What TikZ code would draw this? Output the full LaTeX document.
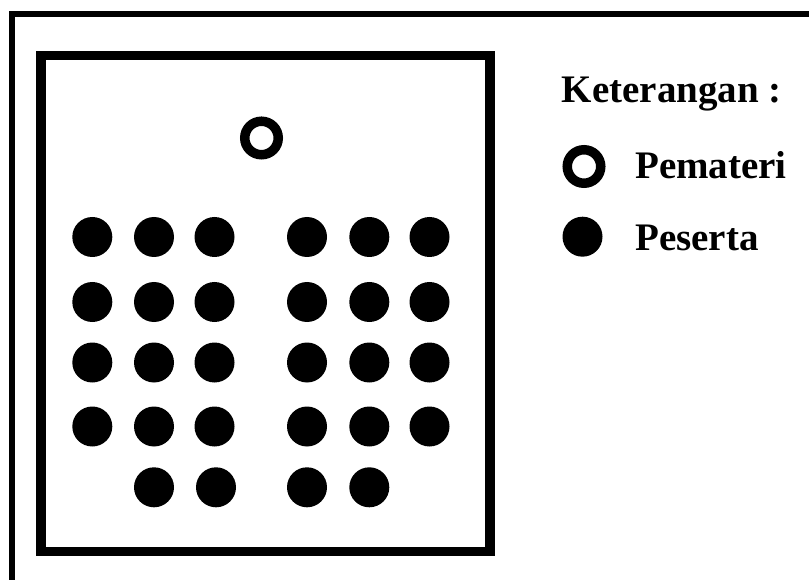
\documentclass[tikz,border=0pt]{standalone}
\usepackage{fontspec}
\setmainfont{Liberation Serif}
\begin{document}
\begin{tikzpicture}[x=1pt,y=-1pt,
  seat/.style={circle,fill=black,inner sep=0pt,minimum size=40pt},
  speaker/.style={circle,draw=black,line width=9.5pt,inner sep=0pt,minimum size=33.5pt},
  legendtext/.style={anchor=base west,inner sep=0pt,font=\fontsize{39}{41}\selectfont\bfseries}]
\useasboundingbox[fill=white] (0,0) rectangle (809,580);
% outer frame (only top and left visible)
\draw[line width=6pt,line join=miter] (12,580) -- (12,14) -- (809,14);
% room
\draw[line width=9.5pt,line join=miter] (41,55.5) rectangle (490,551.5);
% speaker
\node[speaker] (sp) at (261.5,138) {};
% participants
\foreach \r/\y in {1/237,2/302,3/362.5,4/426.5}{
  \foreach \c/\x in {1/92.3,2/154,3/214.5}{
    \node[seat] (L\r\c) at (\x,\y) {};
  }
  \foreach \c/\x in {1/307,2/369.3,3/429.5}{
    \node[seat] (R\r\c) at (\x,\y) {};
  }
}
\node[seat] (L52) at (154,487.3) {};
\node[seat] (L53) at (216,487.3) {};
\node[seat] (R51) at (307,487.3) {};
\node[seat] (R52) at (369.3,487.3) {};
% legend
\node[legendtext] (title) at (561.7,103) {Keterangan :};
\node[speaker] (lgsp) at (584,166.5) {};
\node[legendtext] (lgspt) at (635,178.3) {Pemateri};
\node[seat] (lgseat) at (582.5,236.7) {};
\node[legendtext] (lgseatt) at (635,250.7) {Peserta};
\end{tikzpicture}
\end{document}
